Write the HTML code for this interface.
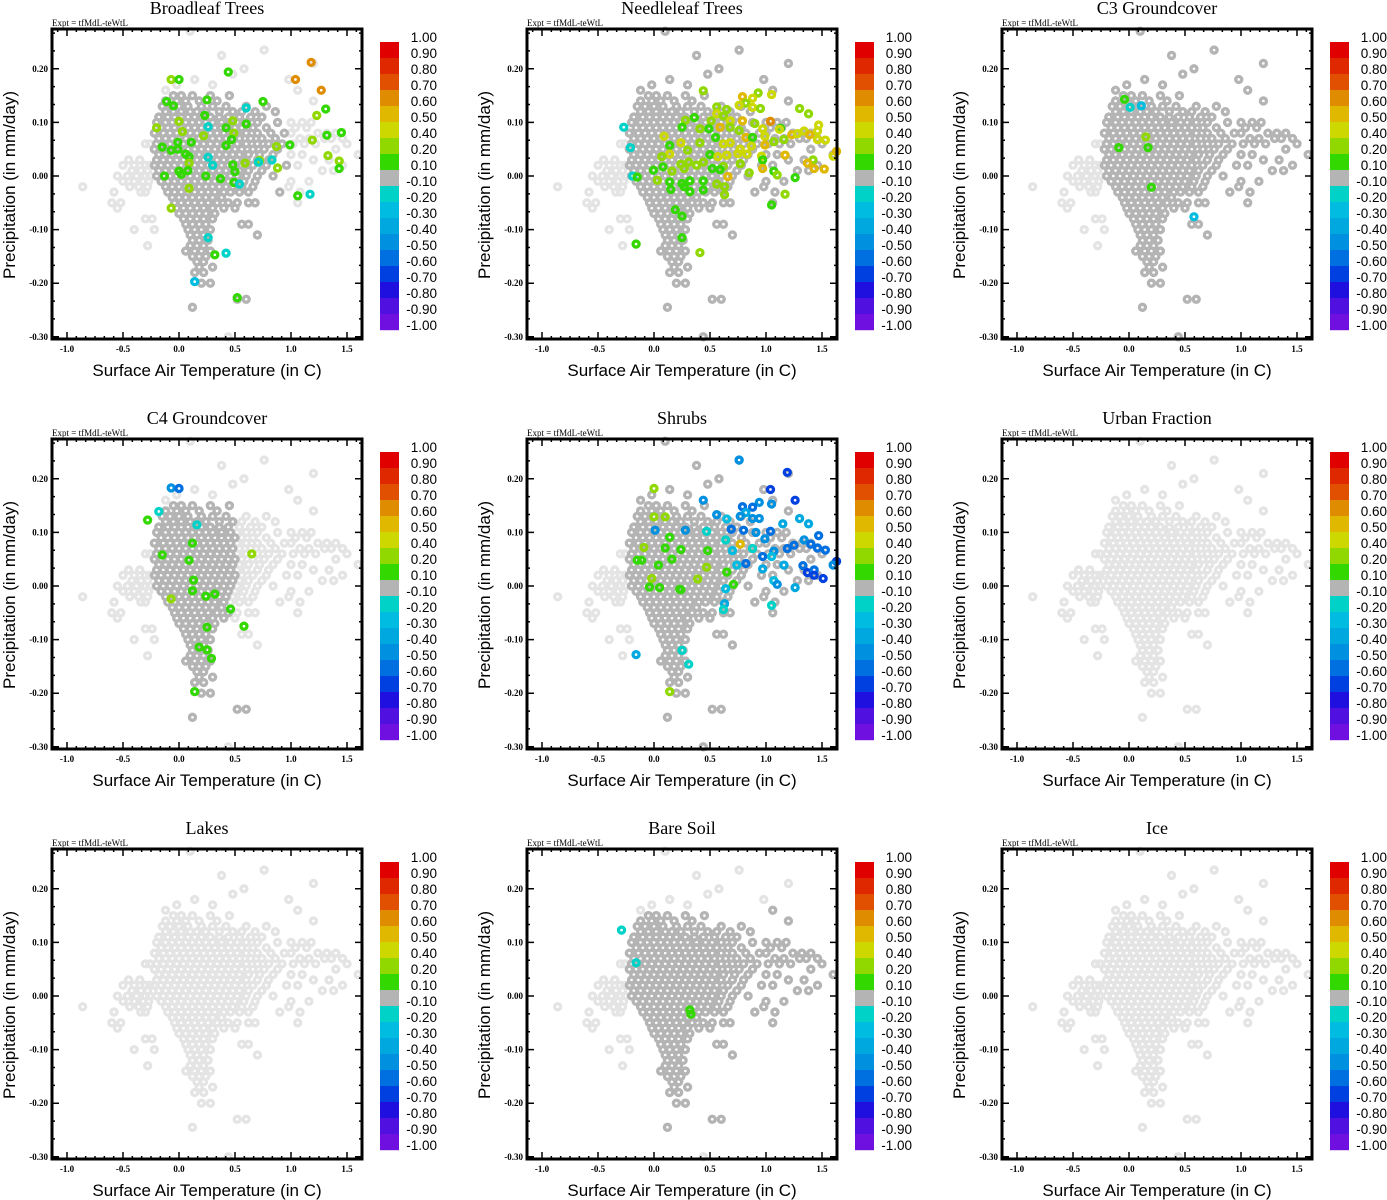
<!DOCTYPE html>
<html><head><meta charset="utf-8">
<style>
html,body{margin:0;padding:0;background:#fff;}
svg{display:block;}
.ttl{font-family:"Liberation Serif",serif;font-size:18px;}
.expt{font-family:"Liberation Serif",serif;font-size:9px;}
.tick{font-family:"Liberation Serif",serif;font-size:9px;font-weight:bold;}
.axl{font-family:"Liberation Sans",sans-serif;font-size:17px;}
.cbl{font-family:"Liberation Sans",sans-serif;font-size:13.5px;}
</style></head>
<body>
<svg id="fig" width="1387" height="1200" viewBox="0 0 1387 1200" xmlns="http://www.w3.org/2000/svg"></svg>
<script>
// ---- data (rows: [y, x1, x2, ...]) ----
const cloudCore = [
[0.15,-0.05,0.02,0.12,0.28,0.45],
[0.14,-0.12,-0.02,0.06,0.18,0.34],
[0.13,-0.15,-0.08,0.0,0.08,0.2,0.3,0.42],
[0.12,-0.12,-0.05,0.02,0.1,0.16,0.24,0.36,0.48],
[0.11,-0.18,-0.1,-0.04,0.02,0.08,0.14,0.2,0.28,0.36,0.44],
[0.10,-0.2,-0.12,-0.06,0,0.06,0.12,0.18,0.24,0.3,0.38,0.46],
[0.09,-0.16,-0.1,-0.04,0.02,0.08,0.14,0.2,0.26,0.32,0.38,0.44,0.5],
[0.08,-0.22,-0.14,-0.08,-0.02,0.04,0.1,0.16,0.22,0.28,0.34,0.4,0.46],
[0.07,-0.18,-0.12,-0.06,0,0.06,0.12,0.18,0.24,0.3,0.36,0.42,0.48],
[0.06,-0.2,-0.14,-0.08,-0.02,0.04,0.1,0.16,0.22,0.28,0.34,0.4,0.46],
[0.05,-0.22,-0.16,-0.1,-0.04,0.02,0.08,0.14,0.2,0.26,0.32,0.38,0.44,0.5],
[0.04,-0.18,-0.12,-0.06,0,0.06,0.12,0.18,0.24,0.3,0.36,0.42,0.48],
[0.03,-0.2,-0.14,-0.08,-0.02,0.04,0.1,0.16,0.22,0.28,0.34,0.4,0.46],
[0.02,-0.22,-0.16,-0.1,-0.04,0.02,0.08,0.14,0.2,0.26,0.32,0.38,0.44,0.5],
[0.01,-0.18,-0.12,-0.06,0,0.06,0.12,0.18,0.24,0.3,0.36,0.42,0.48],
[0.0,-0.2,-0.14,-0.08,-0.02,0.04,0.1,0.16,0.22,0.28,0.34,0.4,0.46],
[-0.01,-0.16,-0.1,-0.04,0.02,0.08,0.14,0.2,0.26,0.32,0.38,0.44],
[-0.02,-0.12,-0.06,0,0.06,0.12,0.18,0.24,0.3,0.36,0.42],
[-0.03,-0.1,-0.04,0.02,0.08,0.14,0.2,0.26,0.32,0.4],
[-0.04,-0.06,0,0.06,0.12,0.18,0.24,0.3,0.38],
[-0.05,-0.04,0.02,0.08,0.14,0.2,0.26,0.34,0.44],
[-0.06,-0.02,0.04,0.1,0.16,0.22,0.3,0.4],
[-0.07,0.0,0.06,0.12,0.18,0.24,0.32],
[-0.08,0.04,0.1,0.16,0.22,0.3],
[-0.09,0.06,0.12,0.18,0.24],
[-0.10,0.08,0.14,0.2,0.28]
];
const cloudTail = [
[-0.11,0.1,0.16,0.22],[-0.12,0.12,0.18,0.26],[-0.13,0.1,0.16,0.22],[-0.14,0.06,0.14,0.2,0.28],
[-0.15,0.12,0.18,0.24],[-0.16,0.16,0.22],[-0.17,0.18,0.3],[-0.18,0.14,0.22],[-0.2,0.2,0.28],
[-0.245,0.12],[-0.23,0.52,0.6]
];
const cloudLeft = [
[0.03,-0.45,-0.35],[0.02,-0.5,-0.4,-0.3,-0.26],[0.01,-0.42,-0.34,-0.28],[0.0,-0.55,-0.46,-0.38,-0.3,-0.26],
[-0.01,-0.5,-0.4,-0.32,-0.27],[-0.02,-0.86,-0.44,-0.36,-0.28],[-0.03,-0.58,-0.34,-0.3],[-0.05,-0.6,-0.52],
[-0.06,-0.55],[-0.1,-0.4,-0.22],[-0.13,-0.28],[0.06,-0.3,-0.26],[-0.08,-0.3,-0.24]
];
const cloudRight1 = [
[0.13,0.6,0.78],[0.12,0.56,0.68,0.86],[0.11,0.54,0.64,0.74],[0.1,0.52,0.6,0.7,0.88],[0.09,0.56,0.66,0.78],
[0.08,0.52,0.6,0.7,0.82,0.94],[0.07,0.54,0.64,0.74,0.86],[0.06,0.52,0.6,0.7,0.8,0.92],[0.05,0.56,0.66,0.76,0.88],
[0.04,0.54,0.62,0.72,0.84],[0.03,0.52,0.6,0.7,0.8],[0.02,0.56,0.66,0.78,0.96],[0.01,0.54,0.62,0.74],
[0.0,0.52,0.6,0.7,0.84],[-0.01,0.5,0.58,0.68],[-0.02,0.48,0.56,0.66],[-0.03,0.46,0.54,0.62,0.9],
[-0.05,0.52,0.62,0.68],[-0.06,0.5],[-0.09,0.56,0.62],[-0.11,0.7]
];
const cloudRight2 = [
[0.16,1.06],[0.14,1.2],[0.1,1.0,1.1,1.18],[0.09,1.04,1.14],[0.08,1.0,1.24,1.32,1.4],[0.07,1.08,1.16,1.3,1.36,1.46],
[0.06,1.02,1.12,1.22,1.5],[0.05,1.4],[0.04,1.0,1.1,1.6],[0.03,1.2,1.34],[0.02,1.06,1.46],[0.01,1.28,1.38],
[-0.01,1.0,1.16],[-0.02,0.98],[-0.03,1.08],[-0.05,1.06]
];
const cloudTop = [
[0.27,0.1],[0.235,0.76],[0.225,0.38],[0.21,1.2],[0.2,0.58],[0.19,0.48],[0.18,0.14,0.98],[0.17,-0.02,0.3],[0.16,-0.12],[-0.3,0.44]
];
// coloured points: [x, y, value]
const broadleafPts = [
[-0.07,0.18,0.3],[0.0,0.18,0.15],[0.44,0.194,0.15],[1.04,0.18,0.65],[1.18,0.212,0.65],[1.27,0.16,0.65],
[-0.11,0.139,0.15],[-0.05,0.131,0.15],[0.25,0.142,0.15],[0.75,0.139,0.15],[1.31,0.125,0.15],[0.6,0.127,-0.15],
[0.23,0.113,0.15],[1.23,0.113,0.3],[-0.2,0.09,0.3],[0.0,0.102,0.3],[0.03,0.083,0.3],[0.26,0.092,-0.15],
[0.48,0.103,0.3],[0.6,0.097,0.15],[0.42,0.09,0.15],[0.49,0.08,0.3],[0.22,0.075,0.3],[0.47,0.068,0.15],
[-0.01,0.063,0.15],[0.11,0.063,0.15],[0.42,0.057,0.15],[0.87,0.055,0.3],[0.99,0.058,0.15],[1.19,0.067,0.3],
[1.32,0.076,0.15],[1.45,0.081,0.15],[-0.15,0.054,0.15],[-0.07,0.048,0.15],[-0.01,0.05,0.15],[0.06,0.041,0.15],
[0.09,0.036,0.15],[0.26,0.035,-0.15],[0.09,0.024,0.3],[0.08,0.01,0.15],[0.3,0.02,-0.15],[0.48,0.021,0.15],
[0.59,0.024,0.3],[0.72,0.029,0.3],[0.83,0.03,-0.15],[1.33,0.038,0.3],[1.43,0.028,0.3],[1.43,0.014,0.15],
[0.88,0.015,0.3],[0.71,0.026,-0.15],[-0.13,0.0,0.15],[0.02,0.003,0.15],[0.0,0.009,0.15],[0.24,0.0,0.15],
[0.37,-0.005,0.15],[0.5,0.008,0.15],[0.49,-0.012,0.15],[0.54,-0.015,-0.15],[0.09,-0.023,0.3],[1.06,-0.037,0.15],
[1.17,-0.034,-0.15],[-0.07,-0.06,0.3],[0.26,-0.115,-0.15],[0.32,-0.147,0.15],[0.42,-0.144,-0.15],
[0.14,-0.197,-0.25],[0.52,-0.227,0.15]
];
const needleleafPts = [
[-0.27,0.091,-0.15],[-0.21,0.053,-0.15],[-0.19,0.0,-0.15],[-0.15,-0.002,0.15],[0.44,0.159,0.3],[0.93,0.155,0.3],
[1.05,0.152,0.45],[0.79,0.148,0.55],[0.88,0.145,0.45],[0.82,0.136,0.3],[0.56,0.129,0.3],[0.65,0.124,0.3],
[0.76,0.132,0.45],[0.88,0.128,0.45],[0.95,0.126,0.3],[1.3,0.126,0.3],[1.38,0.116,0.3],[0.56,0.116,0.45],
[0.62,0.112,0.3],[0.68,0.103,0.45],[0.79,0.103,0.55],[1.04,0.102,0.65],[0.9,0.098,0.3],[1.13,0.089,0.15],
[1.12,0.087,0.45],[0.36,0.109,0.15],[0.28,0.104,0.3],[0.25,0.091,0.15],[0.51,0.103,0.3],[0.41,0.088,0.3],
[0.49,0.088,0.15],[0.59,0.091,0.55],[0.68,0.091,0.3],[0.76,0.085,0.3],[0.82,0.072,0.55],[0.88,0.072,0.15],
[0.97,0.088,0.45],[0.99,0.074,0.45],[0.99,0.058,0.55],[1.07,0.064,0.3],[1.16,0.068,0.3],[1.23,0.077,0.55],
[1.28,0.079,0.45],[1.34,0.084,0.45],[1.39,0.077,0.55],[1.46,0.084,0.45],[1.47,0.095,0.45],[1.53,0.067,0.45],
[1.46,0.068,0.45],[0.09,0.074,0.45],[0.14,0.057,0.15],[0.24,0.062,0.45],[0.41,0.062,0.3],[0.55,0.072,0.15],
[0.62,0.06,0.45],[0.68,0.062,0.45],[0.77,0.05,0.45],[0.87,0.056,0.45],[0.14,0.041,0.45],[0.3,0.048,0.3],
[0.5,0.04,0.15],[0.57,0.036,0.45],[0.65,0.039,0.45],[0.75,0.042,0.45],[0.83,0.041,0.45],[0.96,0.037,0.45],
[0.97,0.03,0.15],[1.17,0.039,0.55],[1.42,0.03,0.3],[1.37,0.024,0.55],[1.43,0.014,0.55],[1.52,0.013,0.55],
[1.6,0.037,0.45],[1.63,0.046,0.55],[0.07,0.036,0.3],[0.24,0.022,0.3],[0.31,0.026,0.3],[0.38,0.02,0.3],
[0.44,0.026,0.3],[0.52,0.014,0.15],[0.62,0.018,0.3],[0.77,0.023,0.3],[0.97,0.014,0.55],[1.07,0.009,0.15],
[1.1,0.002,0.3],[1.26,-0.003,0.15],[-0.005,0.011,0.15],[0.08,0.017,0.15],[0.16,0.009,0.3],[0.27,0.014,0.3],
[0.59,0.012,0.15],[0.66,-0.001,0.55],[0.85,0.006,0.3],[0.03,-0.008,0.3],[0.14,-0.011,0.15],[0.15,-0.025,0.15],
[0.25,-0.014,0.15],[0.32,-0.009,0.15],[0.44,-0.009,0.15],[0.27,-0.02,0.15],[0.32,-0.029,0.15],[0.44,-0.026,0.15],
[0.56,-0.015,0.3],[0.63,-0.02,0.3],[0.63,-0.035,0.3],[1.17,-0.034,0.3],[1.05,-0.054,0.15],[0.19,-0.063,0.15],
[0.25,-0.075,0.15],[0.25,-0.115,0.15],[-0.16,-0.127,0.15],[0.41,-0.143,0.3]
];
const c3Pts = [
[-0.04,0.143,0.15],[0.01,0.128,-0.15],[0.11,0.131,-0.25],[0.15,0.073,0.3],[-0.09,0.053,0.15],[0.17,0.053,0.15],
[0.2,-0.021,0.15],[0.58,-0.076,-0.25]
];
const c4Pts = [
[-0.07,0.183,-0.45],[0.0,0.182,-0.55],[-0.18,0.139,-0.15],[-0.28,0.123,0.15],[0.16,0.114,-0.15],[0.12,0.08,0.15],
[-0.15,0.058,0.15],[0.09,0.048,0.15],[0.65,0.06,0.3],[0.13,0.011,0.15],[0.12,-0.009,0.15],[-0.07,-0.024,0.3],
[0.24,-0.019,0.15],[0.32,-0.015,0.15],[0.46,-0.043,0.15],[0.58,-0.075,0.15],[0.25,-0.077,0.15],[0.18,-0.114,0.15],
[0.25,-0.119,0.15],[0.29,-0.135,0.15],[0.14,-0.197,0.15]
];
const shrubPts = [
[0.0,0.182,0.3],[0.76,0.235,-0.45],[1.19,0.212,-0.65],[1.04,0.18,-0.65],[1.26,0.16,-0.65],[0.44,0.16,-0.45],
[0.79,0.148,-0.55],[0.94,0.156,-0.45],[0.88,0.147,-0.55],[1.05,0.153,-0.45],[0.0,0.129,0.3],[0.1,0.129,0.3],
[0.56,0.133,-0.45],[0.65,0.125,-0.25],[0.82,0.137,-0.35],[0.77,0.13,-0.45],[0.88,0.126,-0.45],[0.94,0.126,-0.45],
[1.15,0.116,-0.35],[1.3,0.126,-0.35],[1.38,0.116,-0.35],[0.28,0.104,-0.45],[0.01,0.104,-0.45],[0.47,0.102,-0.15],
[0.69,0.106,-0.55],[0.8,0.104,-0.55],[0.91,0.1,-0.45],[1.04,0.102,-0.55],[0.14,0.091,0.15],[0.64,0.086,-0.15],
[0.77,0.078,0.55],[0.88,0.07,-0.15],[0.99,0.088,-0.45],[1.07,0.065,-0.45],[1.19,0.07,-0.55],[1.25,0.076,-0.55],
[1.34,0.086,-0.45],[1.4,0.078,-0.55],[1.47,0.094,-0.55],[1.46,0.071,-0.55],[1.53,0.067,-0.55],[1.63,0.046,-0.65],
[-0.09,0.072,0.3],[0.1,0.071,0.15],[0.24,0.068,0.15],[0.48,0.066,0.15],[-0.15,0.048,0.15],[-0.11,0.048,0.15],
[0.16,0.05,0.15],[0.04,0.039,0.15],[0.7,0.066,-0.25],[0.74,0.039,-0.25],[0.82,0.042,-0.55],[0.97,0.055,-0.55],
[1.05,0.055,-0.25],[1.16,0.039,-0.35],[1.33,0.038,-0.55],[1.37,0.025,-0.65],[1.43,0.03,-0.55],[1.43,0.02,-0.65],
[1.51,0.014,-0.65],[1.6,0.039,-0.45],[0.47,0.035,0.3],[0.65,0.026,0.15],[0.97,0.032,-0.35],[-0.02,0.014,0.3],
[0.39,0.013,0.3],[-0.04,-0.002,0.15],[0.05,-0.003,0.15],[0.23,-0.006,0.15],[0.24,-0.007,0.15],[0.71,0.003,0.15],
[0.64,-0.005,-0.25],[1.07,0.01,-0.25],[1.1,0.003,-0.45],[1.26,-0.003,-0.35],[0.63,-0.033,-0.35],[0.62,-0.044,-0.15],
[1.05,-0.036,-0.15],[0.25,-0.12,-0.15],[0.31,-0.146,-0.15],[-0.16,-0.128,-0.35],[0.14,-0.197,0.3]
];
const bareSoilPts = [[-0.29,0.123,-0.15],[-0.16,0.062,-0.15],[0.32,-0.026,0.15],[0.33,-0.034,0.15]];
const urbanPts = [], lakesPts = [], icePts = [];

const panelTitles = ["Broadleaf Trees","Needleleaf Trees","C3 Groundcover","C4 Groundcover","Shrubs","Urban Fraction","Lakes","Bare Soil","Ice"];
const panelDark = [
 ["core","tail","right1"],["core","tail","right1","right2","top"],["core","tail","right1","right2","top"],
 ["core","tail"],["core","tail","right1","right2","top"],[],
 [],["core","tail","right1","right2"],[]
];
const panelPts = [broadleafPts,needleleafPts,c3Pts,c4Pts,shrubPts,urbanPts,lakesPts,bareSoilPts,icePts];
const cbLabels = ["1.00","0.90","0.80","0.70","0.60","0.50","0.40","0.20","0.10","-0.10","-0.20","-0.30","-0.40","-0.50","-0.60","-0.70","-0.80","-0.90","-1.00"];
const cbBounds = [1.0,0.9,0.8,0.7,0.6,0.5,0.4,0.2,0.1,-0.1,-0.2,-0.3,-0.4,-0.5,-0.6,-0.7,-0.8,-0.9,-1.0];
const cbColors = ["#e00000","#e02800","#e05000","#e08c00","#e0b800","#ccd800","#90d800","#33d800","#b4b4b4","#00d2c8","#00bce0","#00a8e0","#0090e0","#0070e0","#0040e0","#2010e0","#5010e0","#7010e0"];
const xTicks = [-1.0,-0.5,0.0,0.5,1.0,1.5];
const xTickLabels = ["-1.0","-0.5","0.0","0.5","1.0","1.5"];
const yTicks = [0.2,0.1,0.0,-0.1,-0.2,-0.3];
const yTickLabels = ["0.20","0.10","0.00","-0.10","-0.20","-0.30"];

// ---- drawing ----
const NS="http://www.w3.org/2000/svg";
const svg=document.getElementById('fig');
const clusterMap={core:cloudCore,tail:cloudTail,left:cloudLeft,right1:cloudRight1,right2:cloudRight2,top:cloudTop};
const allClusters=["left","core","tail","right1","right2","top"];
function mk(tag,attrs,parent){const e=document.createElementNS(NS,tag);for(const k in attrs)e.setAttribute(k,attrs[k]);parent.appendChild(e);return e;}
function colorFor(v){for(let i=0;i<cbColors.length;i++){if(v<=cbBounds[i]&&v>=cbBounds[i+1])return cbColors[i];}return "#b4b4b4";}
function rowsToPts(rows){const out=[];rows.forEach(r=>{for(let i=1;i<r.length;i++)out.push([r[i],r[0]]);});return out;}

const X0=179, XS=112, Y0=176, YS=536, FL=52, FR=362, FT=29, FB=339;
const PR=3.0, PW=3.3;

panelTitles.forEach((title,p)=>{
  const ox=(p%3)*475, oy=Math.floor(p/3)*410;
  const sx=x=>ox+X0+x*XS, sy=y=>oy+Y0-y*YS;
  const g=mk('g',{},svg);
  
  
  const t=mk('text',{x:ox+207,y:oy+14,'text-anchor':'middle',class:'ttl'},g);t.textContent=title;
  
  
  const ex=mk('text',{x:ox+52,y:oy+26,class:'expt'},g);ex.textContent="Expt = tfMdL-teWtL";
  
  
  const pg=mk('g',{fill:'none','stroke-width':PW},g);
  
  
  allClusters.forEach(c=>rowsToPts(clusterMap[c]).forEach(pt=>{
    const e=mk('circle',{cx:sx(pt[0]),cy:sy(pt[1]),r:PR,stroke:'#e4e4e4'},pg);
    
    
  }));
  panelDark[p].forEach(c=>rowsToPts(clusterMap[c]).forEach(pt=>{
    const e=mk('circle',{cx:sx(pt[0]),cy:sy(pt[1]),r:PR,stroke:'#b4b4b4'},pg);
    
    
  }));
  panelPts[p].forEach(pt=>{
    const e=mk('circle',{cx:sx(pt[0]),cy:sy(pt[1]),r:PR,stroke:colorFor(pt[2])},pg);
    
    
  });
  const fr=mk('rect',{x:ox+FL,y:oy+FT,width:FR-FL,height:FB-FT,fill:'none',stroke:'#000','stroke-width':3},g);
  
  
  let d='';
  for(let v=-1.0833;v<=1.64;v+=0.5/6){const X=sx(v);if(X<ox+FL+1||X>ox+FR-1)continue;d+=`M${X},${oy+FB}v-3M${X},${oy+FT}v3`;}
  xTicks.forEach(v=>{const X=sx(v);d+=`M${X},${oy+FB}v-7M${X},${oy+FT}v7`;});
  for(let v=-0.3;v<=0.28;v+=0.1/3){const Y=sy(v);if(Y<oy+FT+1||Y>oy+FB-1)continue;d+=`M${ox+FL},${Y}h3M${ox+FR},${Y}h-3`;}
  yTicks.forEach(v=>{const Y=sy(v);d+=`M${ox+FL},${Y}h7M${ox+FR},${Y}h-7`;});
  const tk=mk('path',{d:d,stroke:'#000','stroke-width':1.5,fill:'none'},g);
  
  
  xTicks.forEach((v,i)=>{const e=mk('text',{x:sx(v),y:oy+352,'text-anchor':'middle',class:'tick'},g);e.textContent=xTickLabels[i];
    
    });
  yTicks.forEach((v,i)=>{const e=mk('text',{x:ox+48,y:sy(v)+3,'text-anchor':'end',class:'tick'},g);e.textContent=yTickLabels[i];
    
    });
  const xl=mk('text',{x:ox+207,y:oy+376,'text-anchor':'middle',class:'axl'},g);xl.textContent="Surface Air Temperature (in C)";
  
  
  const yl=mk('text',{x:0,y:0,'text-anchor':'middle',class:'axl',transform:`translate(${ox+15},${oy+185}) rotate(-90)`},g);yl.textContent="Precipitation (in mm/day)";
  
  
  const cb=mk('g',{},g);
  
  
  cbColors.forEach((c,i)=>{const r=mk('rect',{x:ox+380,y:oy+42+i*16,width:19,height:16.2,fill:c},cb);
    
    });
  cbLabels.forEach((l,i)=>{const e=mk('text',{x:ox+437,y:oy+42+i*16,'text-anchor':'end',class:'cbl'},cb);e.textContent=l;
    
    });
});
</script>
</body></html>
